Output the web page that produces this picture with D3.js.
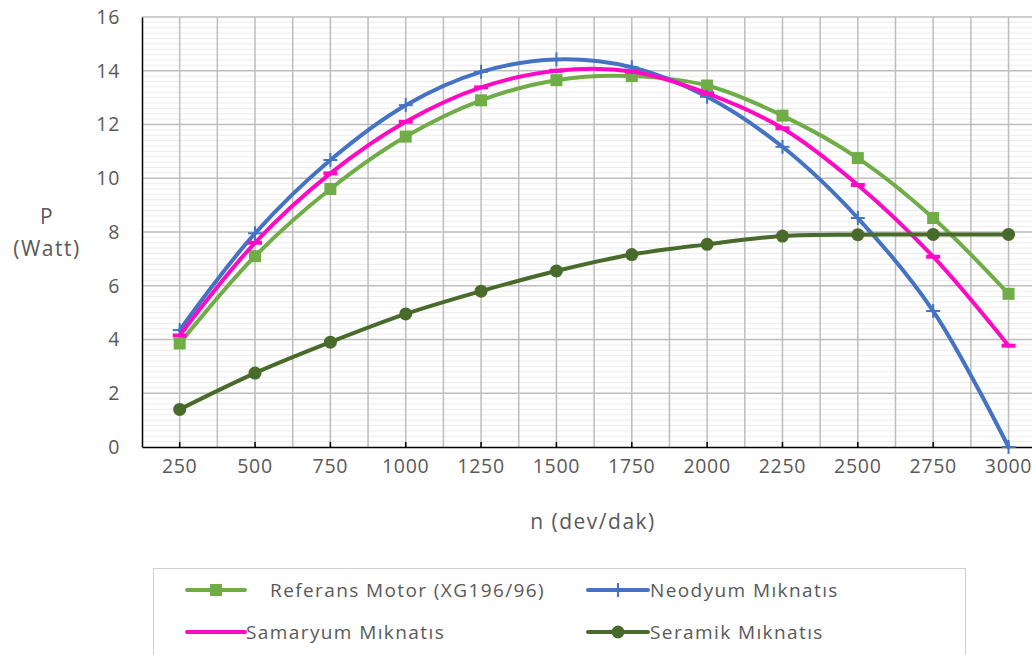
<!DOCTYPE html>
<html><head><meta charset="utf-8">
<script src="https://cdn.jsdelivr.net/npm/d3@7"></script>
<style>html,body{margin:0;padding:0;background:#fff;overflow:hidden}</style>
</head><body>
<svg id="c" width="1032" height="655"></svg>
<script>
const categories = ["250","500","750","1000","1250","1500","1750","2000","2250","2500","2750","3000"];
const referans = [3.85,7.1,9.6,11.55,12.9,13.65,13.8,13.45,12.33,10.75,8.52,5.7];
const neodyum  = [4.35,7.95,10.68,12.72,13.96,14.42,14.13,13.03,11.17,8.52,5.06,0];
const samaryum = [4.15,7.6,10.18,12.1,13.38,14.0,13.97,13.16,11.86,9.75,7.08,3.77];
const seramik  = [1.4,2.75,3.9,4.95,5.8,6.55,7.16,7.54,7.85,7.9,7.91,7.91];
const yTicks = [0,2,4,6,8,10,12,14,16];
const seriesNames = ["Referans Motor (XG196/96)","Neodyum Mıknatıs","Samaryum Mıknatıs","Seramik Mıknatıs"];
const xTitle = "n (dev/dak)";
const yTitle = ["P","(Watt)"];

const svg = d3.select("#c");
const L = 142, T = 17, B = 447, bw = 75.35;
const x = d3.scaleBand().domain(categories).range([L, L + bw*categories.length]);
const y = d3.scaleLinear().domain([0,16]).range([B, T]);
const font = "'Open Sans', 'Liberation Sans', Arial, sans-serif";
const tc = "#595959";

// minor horizontal gridlines
const minor = d3.range(0, 16.001, 0.2).filter(v => Math.abs(v/2 - Math.round(v/2)) > 1e-6);
svg.append("g").selectAll("line").data(minor).join("line")
  .attr("x1", L).attr("x2", 1032).attr("y1", d => y(d)).attr("y2", d => y(d))
  .attr("stroke", "#ececec").attr("stroke-width", 1);
// major horizontal gridlines
svg.append("g").selectAll("line").data(yTicks.filter(d=>d>0)).join("line")
  .attr("x1", L).attr("x2", 1032).attr("y1", d => y(d)).attr("y2", d => y(d))
  .attr("stroke", "#bdbdbd").attr("stroke-width", 1.5);
// vertical gridlines at centers and band edges
const vpos = [];
categories.forEach(c => { vpos.push(x(c) + x.bandwidth()/2); vpos.push(x(c) + x.bandwidth()); });
svg.append("g").selectAll("line").data(vpos).join("line")
  .attr("x1", d => d).attr("x2", d => d).attr("y1", T).attr("y2", B)
  .attr("stroke", "#bdbdbd").attr("stroke-width", 1.5);

// axes
const xAxis = d3.axisBottom(x).tickSizeInner(-5).tickSizeOuter(0).tickPadding(12);
const gx = svg.append("g").attr("transform", `translate(0,${B})`).call(xAxis);
gx.select(".domain").attr("stroke", "#000").attr("stroke-width", 1.5);
gx.selectAll(".tick line").attr("stroke", "#000").attr("stroke-width", 1.5);
gx.selectAll("text").attr("font-family", font).attr("font-size", 19.5).attr("letter-spacing", 0.7).attr("fill", tc);

const yAxis = d3.axisLeft(y).tickValues(yTicks).tickSize(0).tickPadding(22);
const gy = svg.append("g").attr("transform", `translate(${L},0)`).call(yAxis);
gy.select(".domain").attr("stroke", "#000").attr("stroke-width", 1.5);
gy.selectAll("text").attr("font-family", font).attr("font-size", 19.5).attr("letter-spacing", 0.7).attr("fill", tc);

// titles
svg.append("text").attr("x", 593).attr("y", 521).attr("text-anchor", "middle").attr("dominant-baseline", "central")
  .attr("font-family", font).attr("font-size", 21).attr("letter-spacing", 1.5).attr("fill", tc).text(xTitle);
svg.append("text").attr("x", 47).attr("y", 216).attr("text-anchor", "middle").attr("dominant-baseline", "central")
  .attr("font-family", font).attr("font-size", 21).attr("letter-spacing", 1.5).attr("fill", tc).text(yTitle[0]);
svg.append("text").attr("x", 47).attr("y", 248).attr("text-anchor", "middle").attr("dominant-baseline", "central")
  .attr("font-family", font).attr("font-size", 21).attr("letter-spacing", 1.5).attr("fill", tc).text(yTitle[1]);

const series = [
  {name: seriesNames[0], vals: referans, color: "#70ad47", marker: "square"},
  {name: seriesNames[1], vals: neodyum, color: "#4472c4", marker: "plus"},
  {name: seriesNames[2], vals: samaryum, color: "#ff0ac4", marker: "dash"},
  {name: seriesNames[3], vals: seramik, color: "#486a2a", marker: "circle"}
];
const cx = c => x(c) + x.bandwidth()/2;
const line = d3.line().x(d => cx(d.c)).y(d => y(d.v)).curve(d3.curveCatmullRom.alpha(0.5));

function drawMarker(g, px, py, s) {
  if (s.marker === "square") {
    g.append("rect").attr("x", px-6).attr("y", py-6).attr("width", 12).attr("height", 12).attr("fill", s.color);
  } else if (s.marker === "plus") {
    g.append("line").attr("x1", px-7).attr("x2", px+7).attr("y1", py).attr("y2", py).attr("stroke", s.color).attr("stroke-width", 2);
    g.append("line").attr("x1", px).attr("x2", px).attr("y1", py-7).attr("y2", py+7).attr("stroke", s.color).attr("stroke-width", 2);
  } else if (s.marker === "dash") {
    g.append("line").attr("x1", px-7).attr("x2", px+7).attr("y1", py).attr("y2", py).attr("stroke", s.color).attr("stroke-width", 4);
  } else {
    g.append("circle").attr("cx", px).attr("cy", py).attr("r", 6.5).attr("fill", s.color);
  }
}

series.forEach(s => {
  const data = categories.map((c,i) => ({c, v: s.vals[i]}));
  const g = svg.append("g");
  g.append("path").datum(data).attr("d", line).attr("fill", "none")
    .attr("stroke", s.color).attr("stroke-width", 4).attr("stroke-linejoin", "round").attr("stroke-linecap", "round");
  data.forEach(d => drawMarker(g, cx(d.c), y(d.v), s));
});

// legend
const lg = svg.append("g");
lg.append("rect").attr("x", 153.5).attr("y", 568.5).attr("width", 812).attr("height", 100)
  .attr("fill", "#fff").attr("stroke", "#d0d0d0").attr("stroke-width", 1);
const legPos = [
  {x1: 187, x2: 245, y: 590, tx: 270},
  {x1: 588, x2: 648, y: 590, tx: 650},
  {x1: 187, x2: 245, y: 632, tx: 246},
  {x1: 588, x2: 648, y: 632, tx: 650}
];
series.forEach((s,i) => {
  const p = legPos[i];
  lg.append("line").attr("x1", p.x1).attr("x2", p.x2).attr("y1", p.y).attr("y2", p.y)
    .attr("stroke", s.color).attr("stroke-width", 4).attr("stroke-linecap", "round");
  drawMarker(lg, (p.x1+p.x2)/2, p.y, s);
  lg.append("text").attr("x", p.tx).attr("y", p.y).attr("dominant-baseline", "central")
    .attr("font-family", font).attr("font-size", 19).attr("letter-spacing", 1.4).attr("fill", tc).text(s.name);
});
</script>
</body></html>
